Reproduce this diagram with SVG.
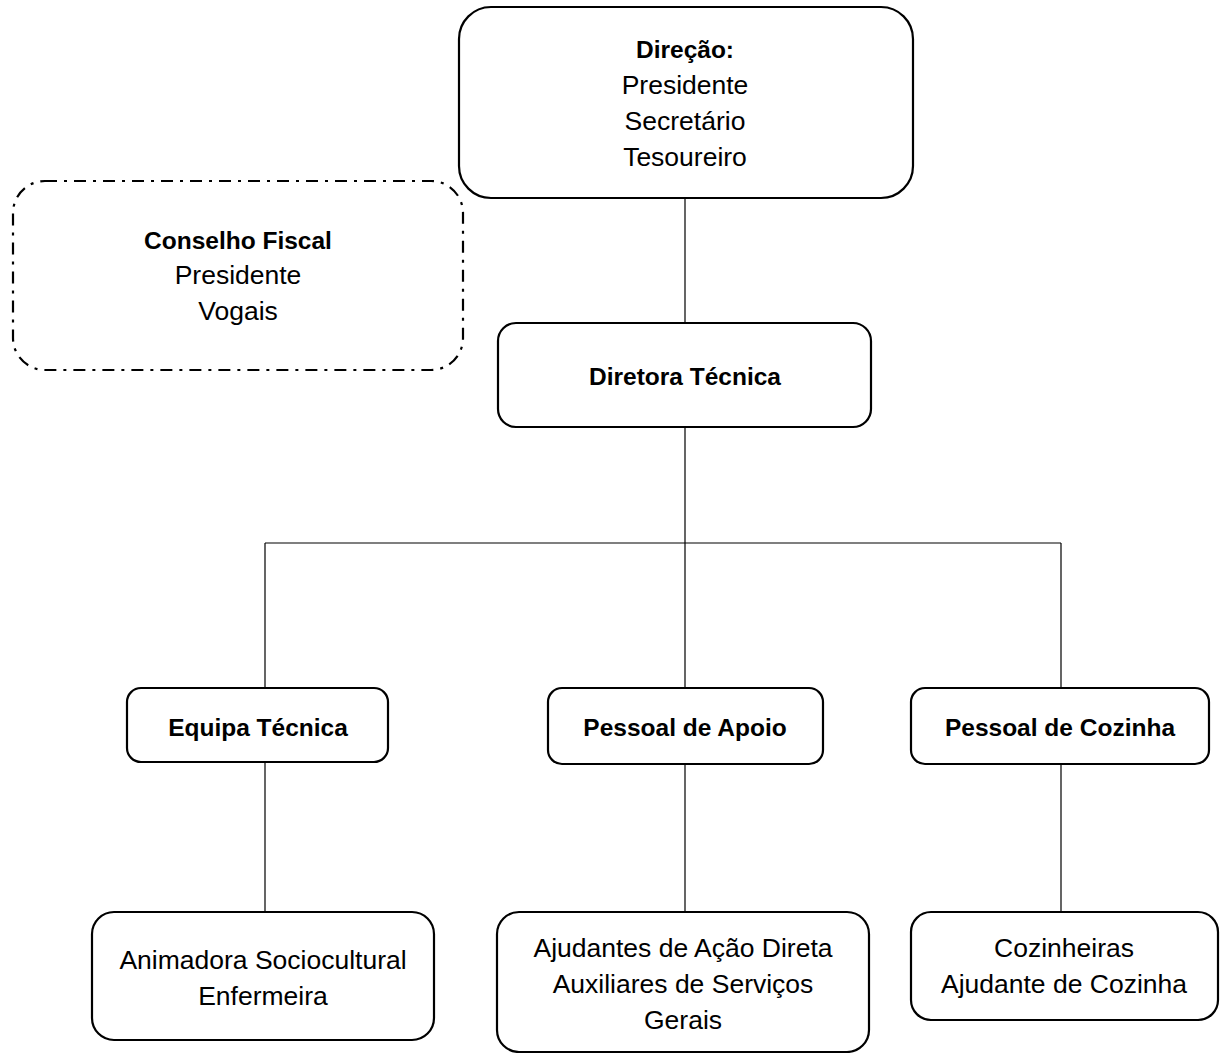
<svg xmlns="http://www.w3.org/2000/svg" width="1224" height="1053" viewBox="0 0 1224 1053">
<style>
.box{fill:#fff;stroke:#000;stroke-width:2.2}
.dash{fill:#fff;stroke:#000;stroke-width:2.2;stroke-dasharray:12 7 3 7}
.t{font-family:"Liberation Sans",Arial,sans-serif;font-size:26.5px;fill:#000;text-anchor:middle}
.b{font-weight:bold;font-size:24.5px}
.c{fill:none;stroke:#000;stroke-width:1.2}
</style>
<rect width="1224" height="1053" fill="#fff"/>
<g id="connectors">
<path class="c" d="M685 198V323M685 427V543M265 543H1061M265 543V688M685 543V688M1061 543V688M265 762V912M685 764V912M1061 764V912"/>
</g>
<g id="direcao">
<rect class="box" x="459" y="7" width="454" height="191" rx="32"/>
<text class="t b" x="685" y="58">Direção:</text>
<text class="t" x="685" y="94">Presidente</text>
<text class="t" x="685" y="130">Secretário</text>
<text class="t" x="685" y="166">Tesoureiro</text>
</g>
<g id="conselho">
<rect class="dash" x="13" y="181" width="450" height="189" rx="32"/>
<text class="t b" x="238" y="249">Conselho Fiscal</text>
<text class="t" x="238" y="284">Presidente</text>
<text class="t" x="238" y="320">Vogais</text>
</g>
<g id="diretora">
<rect class="box" x="498" y="323" width="373" height="104" rx="18"/>
<text class="t b" x="685" y="385">Diretora Técnica</text>
</g>
<g id="equipa">
<rect class="box" x="127" y="688" width="261" height="74" rx="14"/>
<text class="t b" x="258" y="736">Equipa Técnica</text>
</g>
<g id="apoio">
<rect class="box" x="548" y="688" width="275" height="76" rx="14"/>
<text class="t b" x="685" y="736">Pessoal de Apoio</text>
</g>
<g id="cozinha">
<rect class="box" x="911" y="688" width="298" height="76" rx="14"/>
<text class="t b" x="1060" y="736">Pessoal de Cozinha</text>
</g>
<g id="animadora">
<rect class="box" x="92" y="912" width="342" height="128" rx="22"/>
<text class="t" x="263" y="969">Animadora Sociocultural</text>
<text class="t" x="263" y="1005">Enfermeira</text>
</g>
<g id="ajudantes">
<rect class="box" x="497" y="912" width="372" height="140" rx="22"/>
<text class="t" x="683" y="957">Ajudantes de Ação Direta</text>
<text class="t" x="683" y="993">Auxiliares de Serviços</text>
<text class="t" x="683" y="1029">Gerais</text>
</g>
<g id="cozinheiras">
<rect class="box" x="911" y="912" width="307" height="108" rx="20"/>
<text class="t" x="1064" y="957">Cozinheiras</text>
<text class="t" x="1064" y="993">Ajudante de Cozinha</text>
</g>
</svg>
